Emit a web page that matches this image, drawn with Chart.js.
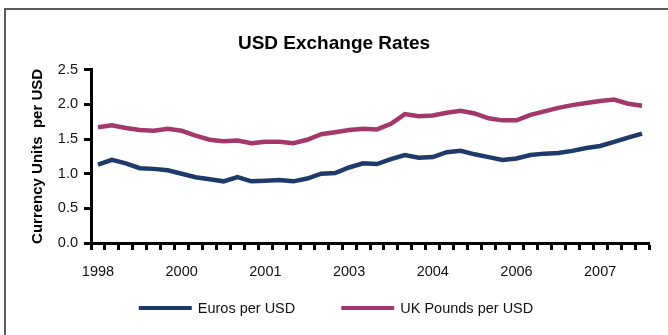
<!DOCTYPE html>
<html>
<head>
<meta charset="utf-8">
<script src="https://cdn.jsdelivr.net/npm/chart.js@4/dist/chart.umd.min.js"></script>
<style>
  html, body { margin: 0; padding: 0; background: #ffffff; overflow: hidden; }
  #wrap { position: relative; width: 668px; height: 335px; }
  #frame {
    position: absolute; left: 4px; top: 8px; width: 720px; height: 400px;
    border-top: 2px solid #5c5c5c; border-left: 2px solid #5c5c5c;
  }
  canvas { position: absolute; left: 0; top: 0; }
</style>
</head>
<body>
<div id="wrap">
  <div id="frame"></div>
  <canvas id="chart" width="668" height="335"></canvas>
</div>
<script>
// Quarterly periods; a year label is shown every sixth period.
const periods = [
  '1998', '', '', '', '', '',
  '2000', '', '', '', '', '',
  '2001', '', '', '', '', '',
  '2003', '', '', '', '', '',
  '2004', '', '', '', '', '',
  '2006', '', '', '', '', '',
  '2007', '', '', ''
];

const eurosPerUsd = [
  1.13, 1.20, 1.15, 1.08, 1.07, 1.05, 1.00, 0.95, 0.92, 0.89,
  0.95, 0.89, 0.90, 0.91, 0.89, 0.93, 1.00, 1.01, 1.09, 1.15,
  1.14, 1.21, 1.27, 1.23, 1.24, 1.31, 1.33, 1.28, 1.24, 1.20,
  1.22, 1.27, 1.29, 1.30, 1.33, 1.37, 1.40, 1.46, 1.52, 1.58
];

const poundsPerUsd = [
  1.67, 1.70, 1.66, 1.63, 1.62, 1.65, 1.62, 1.55, 1.49, 1.47,
  1.48, 1.44, 1.46, 1.46, 1.44, 1.49, 1.57, 1.60, 1.63, 1.65,
  1.64, 1.72, 1.86, 1.83, 1.84, 1.88, 1.91, 1.87, 1.80, 1.77,
  1.77, 1.85, 1.90, 1.95, 1.99, 2.02, 2.05, 2.07, 2.01, 1.98
];

const yTicks = [0, 0.5, 1.0, 1.5, 2.0, 2.5];

const FONT = "'Liberation Sans', Arial, sans-serif";

// Legend drawn as a single centred row beneath the axis.
const legendRow = {
  id: 'legendRow',
  afterDraw(chart, args, opts) {
    const ctx = chart.ctx;
    ctx.save();
    ctx.font = opts.font;
    ctx.textBaseline = 'middle';
    const items = chart.data.datasets.map(ds => ({
      label: ds.label,
      color: ds.borderColor,
      w: opts.lineLength + opts.gap + ctx.measureText(ds.label).width
    }));
    const total = items.reduce((s, it) => s + it.w, 0) + opts.spacing * (items.length - 1);
    let x = (chart.width - total) / 2 + opts.shift;
    for (const it of items) {
      ctx.strokeStyle = it.color;
      ctx.lineWidth = opts.lineWidth;
      ctx.beginPath();
      ctx.moveTo(x, opts.y);
      ctx.lineTo(x + opts.lineLength, opts.y);
      ctx.stroke();
      ctx.fillStyle = opts.color;
      ctx.fillText(it.label, x + opts.lineLength + opts.gap, opts.y + 1);
      x += it.w + opts.spacing;
    }
    ctx.restore();
  }
};

new Chart(document.getElementById('chart'), {
  type: 'line',
  data: {
    labels: periods,
    datasets: [
      {
        label: 'Euros per USD',
        data: eurosPerUsd,
        borderColor: '#1d3a6b',
        borderWidth: 4.5,
        pointRadius: 0,
        tension: 0
      },
      {
        label: 'UK Pounds per USD',
        data: poundsPerUsd,
        borderColor: '#a2386b',
        borderWidth: 4.5,
        pointRadius: 0,
        tension: 0
      }
    ]
  },
  options: {
    responsive: false,
    animation: false,
    devicePixelRatio: 1,
    layout: { padding: { left: 0, right: 0, top: 0, bottom: 40 } },
    plugins: {
      legend: { display: false },
      tooltip: { enabled: false },
      title: {
        display: true,
        text: 'USD Exchange Rates',
        color: '#000',
        font: { family: FONT, size: 19, weight: 'bold' },
        padding: { top: 32, bottom: 15 }
      },
      legendRow: {
        font: "14.5px " + FONT,
        color: '#111',
        y: 308,
        lineLength: 53,
        lineWidth: 4,
        gap: 6,
        spacing: 46,
        shift: 2
      }
    },
    scales: {
      x: {
        type: 'category',
        offset: true,
        grid: {
          offset: true,
          drawOnChartArea: false,
          drawTicks: true,
          tickLength: 7,
          tickWidth: 3,
          tickColor: '#000'
        },
        border: { display: true, color: '#000', width: 3 },
        ticks: {
          autoSkip: false,
          maxRotation: 0,
          minRotation: 0,
          padding: 13,
          color: '#111',
          font: { family: FONT, size: 14.5 }
        },
        afterFit(scale) { scale.height = 52; }
      },
      y: {
        min: 0,
        max: 2.5,
        afterBuildTicks(scale) { scale.ticks = yTicks.map(v => ({ value: v })); },
        grid: {
          drawOnChartArea: false,
          drawTicks: true,
          tickLength: 7,
          tickWidth: 3,
          tickColor: '#000'
        },
        border: { display: true, color: '#000', width: 3 },
        ticks: {
          padding: 6,
          color: '#111',
          font: { family: FONT, size: 14.5 },
          callback: v => Number(v).toFixed(1)
        },
        title: {
          display: true,
          text: 'Currency Units  per USD',
          color: '#000',
          font: { family: FONT, size: 15, weight: 'bold' },
          padding: { top: 29, bottom: 0 }
        },
        afterFit(scale) { scale.width = 91; }
      },
      // empty margin column on the right of the plot
      yMargin: {
        type: 'linear',
        axis: 'y',
        position: 'right',
        display: true,
        grid: { display: false },
        border: { display: false },
        ticks: { display: false },
        afterFit(scale) { scale.width = 19; }
      }
    }
  },
  plugins: [legendRow]
});
</script>
</body>
</html>
